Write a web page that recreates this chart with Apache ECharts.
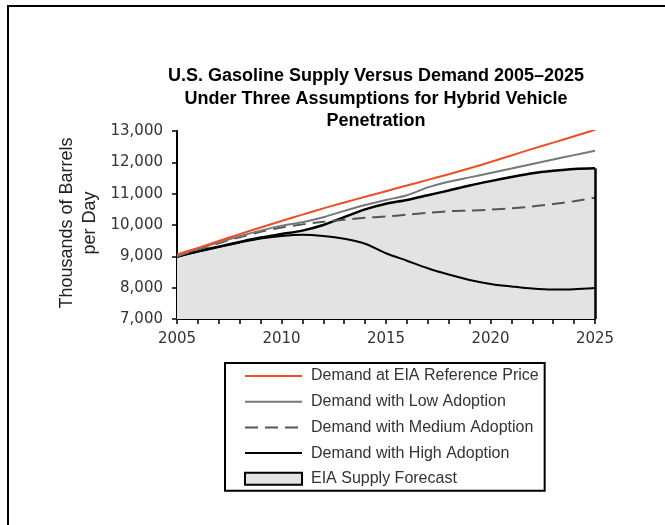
<!DOCTYPE html>
<html>
<head>
<meta charset="utf-8">
<script src="https://cdn.jsdelivr.net/npm/echarts@6/dist/echarts.min.js"></script>
<style>
html,body{margin:0;padding:0;background:#fff;}
#chart{width:665px;height:525px;}
</style>
</head>
<body>
<div id="chart"></div>
<script>
const years = [2005,2006,2007,2008,2009,2010,2011,2012,2013,2014,2015,2016,2017,2018,2019,2020,2021,2022,2023,2024,2025];
const demandReference = [9060,9270,9490,9710,9920,10130,10330,10530,10720,10900,11080,11260,11440,11620,11810,12010,12220,12430,12630,12830,13040];
const demandLow = [9010,9240,9450,9640,9820,9980,10090,10250,10450,10640,10800,10950,11200,11380,11520,11660,11800,11950,12090,12230,12370];
const demandMedium = [9000,9220,9420,9610,9780,9920,10020,10100,10170,10230,10270,10330,10390,10440,10460,10490,10530,10590,10670,10760,10870];
const demandHigh = [8980,9150,9300,9440,9570,9650,9690,9650,9560,9400,9100,8860,8620,8420,8245,8120,8040,7970,7940,7950,7990];
const supplyForecast = [8990,9160,9310,9460,9600,9710,9820,10000,10250,10500,10680,10800,10950,11100,11260,11400,11530,11650,11730,11790,11810];
const yTicks = [7000,13000,1000];
const xTicks = [2005,2025,5];
const names = ['Demand at EIA Reference Price','Demand with Low Adoption','Demand with Medium Adoption','Demand with High Adoption','EIA Supply Forecast'];
const titleText = 'U.S. Gasoline Supply Versus Demand 2005\u20132025\nUnder Three Assumptions for Hybrid Vehicle\nPenetration';
const yName = 'Thousands of Barrels\nper Day';

const pair = arr => years.map((y,i)=>[y,arr[i]]);
const FONT = 'Liberation Sans';
const AXFONT = 'DejaVu Sans';

const chart = echarts.init(document.getElementById('chart'), null, {renderer:'canvas'});
chart.setOption({
  animation:false,
  backgroundColor:'#fff',
  title:{
    text:titleText,
    left:371, top:60, textAlign:'center',
    textStyle:{fontFamily:FONT,fontSize:18,fontWeight:'bold',color:'#000',lineHeight:22.5}
  },
  graphic:[
    {type:'rect',shape:{x:8,y:6,width:720,height:600},style:{fill:'none',stroke:'#000',lineWidth:2},silent:true},
    {type:'text',x:79,y:223,rotation:Math.PI/2,
     style:{text:yName,fontFamily:FONT,fontSize:18,fill:'#222',align:'center',verticalAlign:'middle',lineHeight:23}}
  ],
  grid:{left:177,right:70,top:131,bottom:206,containLabel:false},
  legend:{
    orient:'vertical',left:225,top:363,
    itemWidth:57,itemHeight:12,itemGap:9.7,
    padding:[5,6,4,19],
    borderColor:'#000',borderWidth:2,backgroundColor:'#fff',
    textStyle:{fontFamily:FONT,fontSize:16,color:'#333',lineHeight:16,padding:[0,0,0,4]},
    data:[
      {name:names[0],itemStyle:{opacity:0}},
      {name:names[1],itemStyle:{opacity:0}},
      {name:names[2],itemStyle:{opacity:0}},
      {name:names[3],itemStyle:{opacity:0}},
      {name:names[4],icon:'rect',itemStyle:{color:'#e3e3e3',borderColor:'#000',borderWidth:2}}
    ]
  },
  xAxis:{
    type:'value',min:xTicks[0],max:xTicks[1],interval:1,
    axisLine:{lineStyle:{color:'#000',width:2}},
    axisTick:{show:true,length:5,lineStyle:{color:'#000',width:1.5}},
    axisLabel:{margin:13,fontFamily:AXFONT,fontSize:15,color:'#333',
      formatter:v=> (v % xTicks[2] === 0 ? String(v) : '')},
    splitLine:{show:false}
  },
  yAxis:{
    type:'value',min:yTicks[0],max:yTicks[1],interval:yTicks[2],
    axisLine:{show:true,lineStyle:{color:'#000',width:2}},
    axisTick:{show:true,length:5,lineStyle:{color:'#000',width:1.5}},
    axisLabel:{margin:14,fontFamily:AXFONT,fontSize:15,color:'#333',
      formatter:v=>v.toLocaleString('en-US')},
    splitLine:{show:false}
  },
  series:[
    {name:names[4],type:'line',data:pair(supplyForecast),symbol:'none',smooth:0.3,z:1,
     lineStyle:{color:'#000',width:2.5},itemStyle:{color:'#000'},
     areaStyle:{color:'#e3e3e3',opacity:1},
     markLine:{silent:true,symbol:'none',label:{show:false},
       lineStyle:{color:'#000',width:2.5,type:'solid'},
       data:[[{coord:[years[years.length-1],yTicks[0]]},{coord:[years[years.length-1],supplyForecast[supplyForecast.length-1]]}]]}},
    {name:names[3],type:'line',data:pair(demandHigh),symbol:'none',smooth:0.3,z:3,
     lineStyle:{color:'#000',width:2},itemStyle:{color:'#000'}},
    {name:names[2],type:'line',data:pair(demandMedium),symbol:'none',smooth:0.3,z:3,
     lineStyle:{color:'#555',width:2,type:[13,7]},itemStyle:{color:'#555'}},
    {name:names[1],type:'line',data:pair(demandLow),symbol:'none',smooth:0.3,z:3,
     lineStyle:{color:'#777',width:2},itemStyle:{color:'#777'}},
    {name:names[0],type:'line',data:pair(demandReference),symbol:'none',smooth:0.3,z:4,
     lineStyle:{color:'#f04e23',width:2},itemStyle:{color:'#f04e23'}}
  ]
});
</script>
</body>
</html>
